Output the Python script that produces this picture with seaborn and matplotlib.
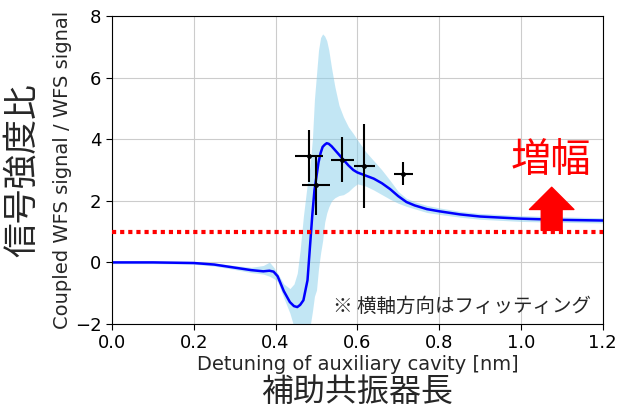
import numpy as np
import matplotlib
matplotlib.use("Agg")
import matplotlib.pyplot as plt
import seaborn as sns

# measured points (detuning [nm], signal ratio) with errors
meas_x = [0.482, 0.499, 0.563, 0.617, 0.712]
meas_y = [3.45, 2.50, 3.34, 3.13, 2.88]
meas_xerr = [0.034, 0.034, 0.028, 0.025, 0.023]
meas_yerr = [0.85, 0.95, 0.73, 1.35, 0.38]

# fitted curve and its uncertainty band
fit_x = [0.0, 0.1, 0.2, 0.25, 0.3, 0.34, 0.37, 0.385, 0.395, 0.405, 0.42, 0.435,
         0.445, 0.453, 0.46, 0.468, 0.478, 0.484, 0.49, 0.495, 0.5, 0.505, 0.51,
         0.515, 0.52, 0.525, 0.53, 0.537, 0.545, 0.555, 0.566, 0.578, 0.59, 0.6,
         0.62, 0.64, 0.66, 0.68, 0.7, 0.72, 0.74, 0.77, 0.8, 0.85, 0.9, 1.0, 1.1, 1.2]
fit_y = [0.0, 0.0, -0.02, -0.07, -0.17, -0.25, -0.29, -0.27, -0.30, -0.45, -0.93, -1.29,
         -1.42, -1.45, -1.38, -1.23, -0.58, 0.5, 1.58, 2.34, 2.8, 3.25, 3.55,
         3.75, 3.82, 3.87, 3.85, 3.77, 3.65, 3.5, 3.33, 3.15, 3.0, 2.92,
         2.82, 2.72, 2.57, 2.38, 2.15, 1.96, 1.85, 1.73, 1.66, 1.56, 1.49, 1.42, 1.38, 1.36]
fit_lo = [-0.04, -0.04, -0.06, -0.12, -0.23, -0.33, -0.38, -0.45, -0.52, -0.62, -1.15, -1.65,
          -2.1, -2.5, -2.8, -2.8, -2.5, -2.1, -1.6, -1.1, -0.9, -0.2, 0.3,
          0.7, 1.3, 1.6, 1.8, 2.0, 2.1, 2.17, 2.2, 2.3, 2.45, 2.55,
          2.48, 2.35, 2.2, 2.05, 1.92, 1.82, 1.74, 1.62, 1.56, 1.47, 1.40, 1.33, 1.30, 1.28]
fit_hi = [0.04, 0.04, 0.03, -0.02, -0.10, -0.16, -0.10, 0.01, -0.15, -0.35, -0.70, -0.85,
          -0.70, -0.35, 0.40, 1.5, 2.6, 3.1, 4.0, 5.3, 6.1, 6.9, 7.3,
          7.42, 7.35, 7.2, 6.9, 6.3, 5.7, 5.1, 4.72, 4.4, 4.18, 3.98,
          3.6, 3.3, 3.0, 2.66, 2.3, 2.08, 1.97, 1.85, 1.77, 1.66, 1.59, 1.52, 1.48, 1.45]

baseline = 1.0
x_ticks = [0.0, 0.2, 0.4, 0.6, 0.8, 1.0, 1.2]
y_ticks = [-2, 0, 2, 4, 6, 8]

sns.set_style("ticks", {"axes.grid": True, "grid.color": "#cccccc",
                        "axes.edgecolor": "black"})
plt.rcParams['font.family'] = ['Noto Sans CJK JP', 'DejaVu Sans']
jp = ['Noto Sans CJK JP', 'DejaVu Sans']
en = ['DejaVu Sans']

fig = plt.figure(figsize=(6.17, 4.11), dpi=100)
ax = fig.add_axes([0.1815, 0.2117, 0.7955, 0.7493])

ax.fill_between(fit_x, fit_lo, fit_hi, color='skyblue', alpha=0.5, linewidth=0)
sns.lineplot(x=fit_x, y=fit_y, ax=ax, color='blue', linewidth=1.8)
ax.errorbar(meas_x, meas_y, xerr=meas_xerr, yerr=meas_yerr, fmt='.', color='black',
            markersize=5, elinewidth=1.5, capsize=0, zorder=5)
ax.axhline(baseline, color='red', linewidth=3, dashes=(1, 0.95), zorder=4)

# amplification arrow
ax.annotate('', xy=(1.075, 2.44), xytext=(1.075, baseline + 0.04),
            arrowprops=dict(facecolor='red', edgecolor='red', width=15,
                            headwidth=32, headlength=16, shrink=0), zorder=6)
ax.text(0.894, 0.532, '増幅', transform=ax.transAxes, color='red', fontsize=29,
        ha='center', va='center', family=jp)
ax.text(0.975, 0.058, '※ 横軸方向はフィッティング', transform=ax.transAxes,
        fontsize=14, ha='right', va='center', family=jp)

ax.set_xlim(0.0, 1.2)
ax.set_ylim(-2, 8)
ax.set_xticks(x_ticks)
ax.set_yticks(y_ticks)
ax.set_xticklabels([f'{t:.1f}' for t in x_ticks], family=en)
ax.set_yticklabels([f'{t:d}'.replace('-', '\u2212') for t in y_ticks], family=en)
ax.tick_params(labelsize=13, length=4, direction='out', colors='black')
ax.set_xlabel('Detuning of auxiliary cavity [nm]', fontsize=14, family=en, labelpad=2)
ax.set_ylabel('Coupled WFS signal / WFS signal', fontsize=14, family=en, labelpad=2)
for s in ax.spines.values():
    s.set_visible(True)
    s.set_color('black')

fig.text(0.036, 0.585, '信号強度比', rotation=90, fontsize=25, ha='center',
         va='center', family=jp)
fig.text(0.579, 0.047, '補助共振器長', fontsize=23, ha='center', va='center', family=jp)

fig.savefig('out.png', dpi=100)
